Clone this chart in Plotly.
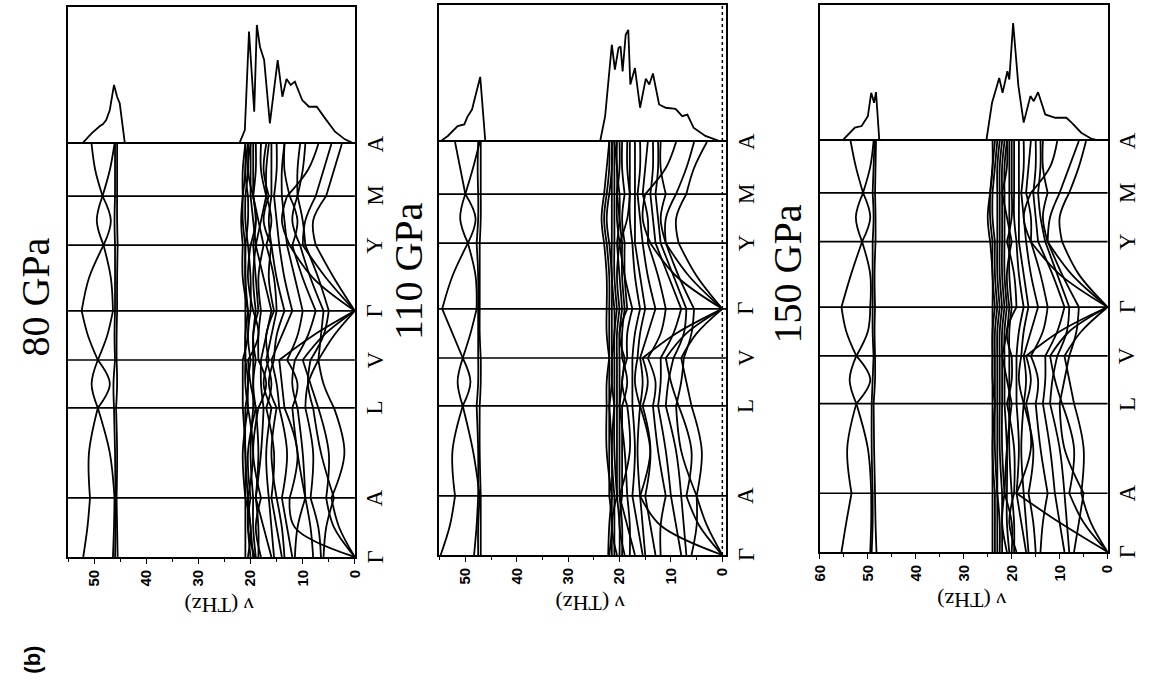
import plotly.graph_objects as go

# ---------------- data ----------------
K_POS = [0.0, 0.0715, 0.143, 0.252, 0.361, 0.419, 0.477, 0.5365, 0.596,
         0.6755, 0.755, 0.8145, 0.874, 0.937, 1.0]
K_TICKS = [0.0, 0.143, 0.361, 0.477, 0.596, 0.755, 0.874, 1.0]
K_LABELS = ["Γ", "A", "L", "V", "Γ", "Y", "M", "A"]
PANEL_TITLES = ["80 GPa", "110 GPa", "150 GPa"]
FREQ_TICKS_80 = [0, 10, 20, 30, 40, 50]
FREQ_TICKS_110 = [0, 10, 20, 30, 40, 50]
FREQ_TICKS_150 = [0, 10, 20, 30, 40, 50, 60]

# phonon branches (THz) at K_POS, 80 GPa
BANDS_80 = [
    [52.1, 51.3, 50.8, 51.0, 49.3, 50.5, 49.3, 51.2, 52.4, 51.0, 48.2, 49.5, 48.4, 49.8, 50.5],
    [46.4, 46.2, 46.1, 47.0, 49.3, 47.0, 49.3, 47.5, 46.4, 46.8, 48.2, 46.8, 48.4, 47.0, 46.1],
    [46.0, 45.9, 45.9, 46.0, 46.2, 46.3, 46.0, 46.1, 46.0, 46.0, 46.0, 46.1, 46.0, 46.0, 46.0],
    [45.5, 45.6, 45.7, 45.6, 45.8, 45.6, 45.7, 45.7, 45.6, 45.6, 45.5, 45.6, 45.6, 45.6, 45.6],
    [0, 3, 4.5, 2, 4, 6, 7, 4, 0, 4, 7.5, 8, 5.5, 4, 2.5],
    [0, 4, 5.5, 5, 7, 8.5, 10, 6, 0, 5.5, 10, 9.5, 7.5, 6, 4.5],
    [0, 11.5, 12.5, 11, 13.5, 14, 14.5, 8, 0, 8, 12.5, 14, 13, 9, 7],
    [6, 5.5, 4, 6.5, 8, 9, 8.5, 6, 5, 7, 9.5, 10, 11, 10, 9.5],
    [6.5, 7, 8.5, 8, 9.5, 9, 7, 6.5, 6, 8.5, 10.5, 12, 11, 11, 10.5],
    [8, 8.5, 9.5, 10, 11, 12, 11.5, 9, 7.5, 10, 12, 11, 12.5, 13.5, 13.5],
    [11.5, 11, 9.5, 11, 12, 11, 13, 11, 10, 11.5, 13, 13.5, 14, 14, 13.5],
    [12, 13, 14, 13, 14.5, 15, 16, 14, 12, 13.5, 14.5, 15, 15.5, 15, 15],
    [13.5, 14, 15, 16, 15, 16.5, 15.5, 15, 13.5, 15, 16, 16.5, 16, 16, 16],
    [14, 15, 16, 15.5, 17, 16, 17, 16, 15, 15.5, 17, 16, 17, 17, 16.5],
    [15.5, 16, 16.5, 17, 16, 17.5, 16.5, 17, 15.5, 16.5, 16, 17.5, 16.5, 17.5, 17],
    [16, 17.5, 19, 18, 17.5, 18, 18, 17, 16, 17.5, 19, 18, 17, 18, 18],
    [18, 19, 18, 19.5, 18.5, 17, 18.5, 18.5, 18, 18.5, 17.5, 18.5, 19.5, 19, 19],
    [18.5, 18.5, 19, 18.5, 19, 19.5, 19, 19.5, 18.5, 19, 19.5, 19, 19.5, 19.5, 19.5],
    [19, 19.5, 19.5, 20, 19.5, 19.5, 19.5, 19.5, 19, 19.5, 19, 19.5, 20, 20, 20],
    [19.2, 20.5, 20, 20.5, 19, 20, 20.5, 18.5, 19.5, 20.5, 20, 19, 19.5, 20.5, 20],
    [19.5, 20, 20.5, 19.5, 20.5, 20.5, 20, 20.5, 20, 20, 20.5, 21, 21, 20.5, 20.5],
    [20, 20.5, 20.5, 21, 21, 20.5, 21, 21, 20.5, 21, 21, 20.5, 20.5, 21, 20.5],
    [20.5, 20, 21, 21.5, 20.5, 21, 21, 21, 21, 21, 21, 21.5, 21.5, 21, 21],
    [21, 21, 21, 21, 21.5, 21.5, 21.5, 20.5, 20.5, 21.5, 21.5, 21.8, 21.5, 21.5, 21],
]

BANDS_110 = [
    [54.8, 53.0, 52.0, 52.5, 50.5, 51.5, 50.5, 52.5, 54.5, 52.5, 49.5, 51.0, 50.0, 51.0, 52.0],
    [47.5, 47.5, 47.2, 48.5, 50.5, 49.0, 50.5, 49.0, 47.8, 48.0, 49.5, 48.0, 50.0, 48.5, 47.2],
    [48.3, 47.8, 47.5, 47.5, 47.8, 47.5, 47.5, 47.5, 47.5, 47.5, 47.8, 47.5, 47.5, 47.6, 47.5],
    [47.0, 47.0, 47.0, 47.2, 47.2, 47.0, 47.0, 47.2, 47.2, 47.2, 47.2, 47.0, 47.0, 47.0, 47.0],
    [0, 3, 5, 4, 6, 7, 8, 5, 0, 5, 8.5, 9, 7, 5.5, 3],
    [0, 4.5, 7, 6, 8.5, 10, 11, 7, 0, 6.5, 11, 11, 9, 7, 5.5],
    [0, 12, 16, 14, 15.5, 14.5, 15.5, 9, 0, 9, 14, 15.5, 15, 11, 9],
    [6, 5, 5, 8, 9, 8, 7.5, 6, 5.5, 8.5, 11, 12, 11, 12, 12],
    [7, 7.5, 8, 9, 11, 10.5, 9.5, 7.5, 7, 9.5, 12, 12.5, 13, 12.5, 12.5],
    [8, 9, 10, 11, 12.5, 12, 12, 9.5, 8, 10.5, 13, 13.5, 14, 13.5, 13.5],
    [12, 12, 11, 12.5, 13.5, 13, 14.5, 12, 11, 12.5, 14.5, 14.5, 15.5, 15, 14.5],
    [13, 14, 15, 14, 16, 15.5, 16, 14.5, 13, 14.5, 15.5, 16, 16.5, 16, 16],
    [15, 15.5, 16, 16.5, 16, 17, 16.5, 16, 15, 16, 17, 17, 17, 17, 17],
    [15.5, 16.5, 17.5, 17, 17.5, 17.5, 17.5, 17, 16, 17, 17.5, 18, 18, 18, 18],
    [17, 18.5, 20, 18, 18.5, 19.5, 18.5, 18.5, 17.5, 19, 20, 18.5, 18, 18.5, 18.5],
    [18, 18, 18.5, 19, 20, 19.5, 19, 20, 18.5, 19, 19, 19.5, 19, 19.5, 19.5],
    [19, 20, 19.5, 19.5, 19.5, 18.5, 19.5, 19.5, 19, 19.5, 19.5, 20, 20.5, 20, 20],
    [19.5, 19.5, 20, 20, 20, 20, 20, 20, 19.5, 20, 20.5, 20, 20, 20.5, 20.5],
    [20, 20, 20.5, 20.5, 20.5, 20.5, 20.5, 20.5, 20, 20.5, 20, 20.5, 20.5, 20.5, 21],
    [20.5, 21.5, 20.5, 21, 21, 21, 21, 21, 20.5, 21, 21, 21, 21, 21, 21],
    [21, 21, 21, 21.5, 21, 21.5, 21.5, 21, 21, 21.5, 21.5, 21.5, 21.5, 21.5, 21.5],
    [21.5, 21.5, 21.5, 21.5, 22, 21.5, 21.5, 21.5, 21.5, 21.5, 22, 22.5, 22, 21.5, 21.5],
    [22, 21.5, 22, 22, 22, 22, 22, 22, 22, 22, 22.5, 23, 22.5, 22, 22],
    [22.2, 22, 21.5, 22.5, 22.5, 22.5, 22, 22.5, 22.5, 22.5, 23, 23.5, 23, 22.5, 22],
]

BANDS_150 = [
    [55.5, 54.5, 53.4, 54.3, 52.4, 53.8, 52.4, 54.5, 55.5, 53.5, 51.2, 52.5, 51.0, 52.5, 53.6],
    [49.5, 49.3, 49.3, 50.0, 52.4, 49.5, 52.4, 50.0, 49.5, 49.5, 51.2, 49.5, 51.0, 49.5, 48.8],
    [49.2, 49.0, 49.0, 49.2, 49.2, 49.0, 48.8, 49.0, 49.0, 49.0, 49.0, 48.8, 49.0, 48.8, 48.6],
    [48.2, 48.4, 48.5, 48.7, 48.8, 48.5, 48.5, 48.6, 48.5, 48.6, 48.4, 48.4, 48.5, 48.4, 48.3],
    [0, 3.5, 5.5, 5, 7, 8, 9, 5.5, 0, 6, 9.5, 10, 8, 6, 4.5],
    [0, 5, 8, 7, 9.5, 11, 12, 8, 0, 7.5, 12.5, 12, 10, 8, 6],
    [0, 10, 19, 16, 17, 16, 17, 10, 0, 10, 16, 17.5, 16, 12, 10.5],
    [7, 6, 5, 9, 10, 9, 8, 6.5, 6, 9.5, 12.5, 13.5, 12.5, 13.5, 13.5],
    [8, 8.5, 9, 10, 12, 11.5, 10.5, 8.5, 8, 10.5, 13, 14, 14.5, 14, 14],
    [9, 10, 11, 12, 13.5, 13, 13, 10.5, 9, 11.5, 14.5, 15, 15.5, 15, 15],
    [14, 13.5, 12.5, 14, 15, 14.5, 16, 13.5, 12.5, 14, 16, 16, 17, 16.5, 16],
    [15, 15.5, 16.5, 15.5, 17.5, 17, 17.5, 16, 14.5, 16, 17, 17.5, 18, 17.5, 17.5],
    [16.5, 17, 17.5, 18, 17.5, 18.5, 18, 17.5, 16.5, 17.5, 18.5, 18.5, 18.5, 18.5, 18.5],
    [17, 18, 19, 18.5, 19, 19, 19, 18.5, 17.5, 18.5, 19, 19.5, 19.5, 19.5, 19.5],
    [19, 20.5, 19.5, 19.5, 21, 20, 20, 21, 19, 19.5, 21, 20, 20, 20, 20],
    [19.5, 19.5, 20, 20.5, 20.5, 20.5, 20.5, 20.5, 20, 20.5, 20.5, 20.5, 20.5, 20.5, 20.5],
    [20, 20, 21.5, 21, 20, 21, 22, 21, 20.5, 21, 20, 21, 22, 21, 21],
    [20.5, 21, 21, 21, 21.5, 21.5, 21.5, 21.5, 21, 21.5, 21.5, 21.5, 21.5, 21.5, 21],
    [21, 22, 21.5, 22, 22, 22, 22, 22, 21.5, 22, 22, 22, 22, 22, 21.5],
    [22, 22, 22, 22.5, 22.5, 22.5, 22.5, 22.5, 22, 22.5, 22.5, 22.5, 22.5, 22.5, 22],
    [22.5, 22.5, 23, 23, 23, 23, 23, 23, 22.5, 23, 23, 23, 23, 23, 22.5],
    [23, 23, 23, 23.5, 23.5, 23.5, 23.5, 23.5, 23, 23.5, 23.5, 24, 24, 23.5, 23],
    [23.5, 23.5, 23.5, 24, 23.5, 24, 24, 24, 23.5, 24, 24, 24.5, 24.5, 24, 23.5],
    [24, 24, 24, 24, 24, 24, 24, 24, 24, 24, 24.5, 25, 24.5, 24, 24],
]

# phonon DOS (arb. units, 1 = top of DOS box)
DOS80_FREQ = [52.4, 50.5, 48.9, 48.3, 47.7, 47.0, 46.2, 45.6, 45.1, 44.1,
              22.2, 21.1, 20.3, 19.3, 18.8, 18.2, 17.4, 16.3, 14.8, 13.9, 13.1, 12.3, 11.5,
              10.1, 8.8, 7.3, 5.7, 3.8, 1.9, 0.0]
DOS80_VAL = [0, 0.078, 0.131, 0.146, 0.175, 0.248, 0.431, 0.345, 0.297, 0,
             0, 0.102, 0.82, 0.236, 0.869, 0.71, 0.613, 0.151, 0.613, 0.345, 0.474, 0.431, 0.455,
             0.321, 0.272, 0.272, 0.187, 0.09, 0.034, 0]
DOS110_FREQ = [55.0, 53.4, 51.5, 50.2, 49.6, 48.7, 47.1, 46.1,
               23.8, 22.8, 21.5, 20.9, 20.2, 19.8, 19.4, 18.8, 18.3, 17.9, 17.0, 16.0, 14.9,
               14.2, 13.5, 12.3, 11.0, 9.1, 7.8, 6.8, 5.6, 3.3, 0.8, 0.0]
DOS110_VAL = [0, 0.044, 0.116, 0.128, 0.184, 0.237, 0.475, 0,
              0, 0.189, 0.71, 0.528, 0.686, 0.697, 0.516, 0.783, 0.819, 0.42, 0.54, 0.25, 0.461,
              0.42, 0.5, 0.274, 0.25, 0.242, 0.189, 0.2, 0.104, 0.044, 0.01, 0]
DOS150_FREQ = [55.4, 54.1, 52.7, 51.3, 50.0, 49.3, 48.7, 48.3, 47.6,
               25.3, 24.1, 22.6, 21.9, 20.9, 20.5, 19.7, 18.6, 17.5, 16.1, 15.4, 14.5, 13.0,
               10.9, 8.6, 7.5, 5.5, 3.4, 1.4, 0.0]
DOS150_VAL = [0, 0.049, 0.098, 0.11, 0.183, 0.354, 0.281, 0.359, 0,
              0, 0.281, 0.464, 0.354, 0.513, 0.452, 0.868, 0.403, 0.135, 0.33, 0.293, 0.359, 0.195,
              0.171, 0.171, 0.135, 0.061, 0.017, 0, 0]

# ---------------- layout geometry ----------------
W, H = 1156, 686
PANELS = [
    dict(bands=BANDS_80, dosf=DOS80_FREQ, dosv=DOS80_VAL, ticks=FREQ_TICKS_80,
         xpx=(60, 351), rng=[55.0, 0.0], ypx=(557, 144, 7), title_px=(27, 297)),
    dict(bands=BANDS_110, dosf=DOS110_FREQ, dosv=DOS110_VAL, ticks=FREQ_TICKS_110,
         xpx=(436, 728), rng=[55.2, -0.77], ypx=(555, 142, 5), title_px=(405, 271)),
    dict(bands=BANDS_150, dosf=DOS150_FREQ, dosv=DOS150_VAL, ticks=FREQ_TICKS_150,
         xpx=(823, 1115), rng=[60.0, 0.0], ypx=(552, 141, 5), title_px=(790, 274)),
]

def px(x):
    return x / W

def py(y):
    return (H - y) / H

fig = go.Figure()
layout = dict(width=W, height=H, margin=dict(l=0, r=0, t=0, b=0),
              paper_bgcolor="white", plot_bgcolor="white", showlegend=False)
shapes = []
annotations = []
serif = "Liberation Serif"

for i, p in enumerate(PANELS):
    n_disp = 2 * i + 1
    n_dos = 2 * i + 2
    xa_d = "x" if n_disp == 1 else f"x{n_disp}"
    ya_d = "y" if n_disp == 1 else f"y{n_disp}"
    xa_s = f"x{n_dos}"
    ya_s = f"y{n_dos}"
    xdom = [px(p["xpx"][0]), px(p["xpx"][1])]
    ydom_d = [py(p["ypx"][0]), py(p["ypx"][1])]
    ydom_s = [py(p["ypx"][1]), py(p["ypx"][2])]

    # dispersion branches, one smooth piece per k-segment
    for br in p["bands"]:
        xs, ys = [], []
        for s in range(0, len(K_POS) - 1, 2):
            xs += br[s:s + 3] + [None]
            ys += K_POS[s:s + 3] + [None]
        fig.add_trace(go.Scatter(x=xs, y=ys, mode="lines", xaxis=xa_d, yaxis=ya_d,
                                 line=dict(color="black", width=1.8, shape="spline", smoothing=1.0),
                                 hoverinfo="skip"))
    # DOS
    fig.add_trace(go.Scatter(x=p["dosf"], y=p["dosv"], mode="lines", xaxis=xa_s, yaxis=ya_s,
                             line=dict(color="black", width=1.8), hoverinfo="skip"))

    key_xd = "xaxis" if n_disp == 1 else f"xaxis{n_disp}"
    key_yd = "yaxis" if n_disp == 1 else f"yaxis{n_disp}"
    layout[key_xd] = dict(domain=xdom, range=p["rng"], anchor=ya_d,
                          showline=True, mirror=True, linecolor="black", linewidth=1.6,
                          showgrid=False, zeroline=False,
                          tickmode="array", tickvals=p["ticks"], ticks="outside",
                          ticklen=5, tickwidth=1.4, tickcolor="black", tickangle=-90,
                          tickfont=dict(family="Liberation Sans", size=15, color="black", weight="bold"),
                          minor=dict(dtick=5, ticks="outside", ticklen=3, tickcolor="black", tickwidth=1))
    layout[key_yd] = dict(domain=ydom_d, range=[0, 1], anchor=xa_d,
                          showline=True, mirror=True, linecolor="black", linewidth=1.6,
                          showgrid=False, zeroline=False, showticklabels=False, ticks="")
    layout[f"xaxis{n_dos}"] = dict(domain=xdom, matches=xa_d, anchor=ya_s, side="top",
                                   showline=True, mirror=False, linecolor="black", linewidth=1.6,
                                   showgrid=False, zeroline=False, showticklabels=False, ticks="")
    layout[f"yaxis{n_dos}"] = dict(domain=ydom_s, range=[0, 1], anchor=xa_s,
                                   showline=True, mirror=True, linecolor="black", linewidth=1.6,
                                   showgrid=False, zeroline=False, showticklabels=False, ticks="")

    # high-symmetry separators
    for k in K_TICKS[1:-1]:
        shapes.append(dict(type="line", xref=f"{xa_d} domain", x0=0, x1=1, yref=ya_d, y0=k, y1=k,
                           line=dict(color="black", width=1.7), layer="above"))
    # k labels
    for k, lab in zip(K_TICKS, K_LABELS):
        annotations.append(dict(text=lab, xref="paper", yref=ya_d, x=px(p["xpx"][1] + 20), y=k,
                                showarrow=False, textangle=-90,
                                font=dict(family=serif, size=23, color="black"),
                                xanchor="center", yanchor="middle"))
    # frequency axis title (upside-down)
    annotations.append(dict(text="ν (THz)", xref="paper", yref="paper",
                            x=px((p["xpx"][0] + p["xpx"][1]) / 2 + 8), y=py(p["ypx"][0] + 49),
                            showarrow=False, textangle=180,
                            font=dict(family=serif, size=22, color="black"),
                            xanchor="center", yanchor="middle"))
    # panel title
    annotations.append(dict(text=PANEL_TITLES[i], xref="paper", yref="paper",
                            x=px(p["title_px"][0]), y=py(p["title_px"][1]),
                            showarrow=False, textangle=-90,
                            font=dict(family=serif, size=40, color="black"),
                            xanchor="center", yanchor="middle"))

# dotted zero line in the 110 GPa panel
shapes.append(dict(type="line", xref="x3", x0=0, x1=0, yref="paper",
                   y0=py(555), y1=py(5), line=dict(color="black", width=1.5, dash="dot")))

annotations.append(dict(text="(b)", xref="paper", yref="paper", x=px(23), y=py(660),
                        showarrow=False, textangle=-90,
                        font=dict(family="Liberation Sans", size=22, color="black", weight="bold"),
                        xanchor="center", yanchor="middle"))

layout["shapes"] = shapes
layout["annotations"] = annotations
fig.update_layout(**layout)
fig.write_html("out.html")
